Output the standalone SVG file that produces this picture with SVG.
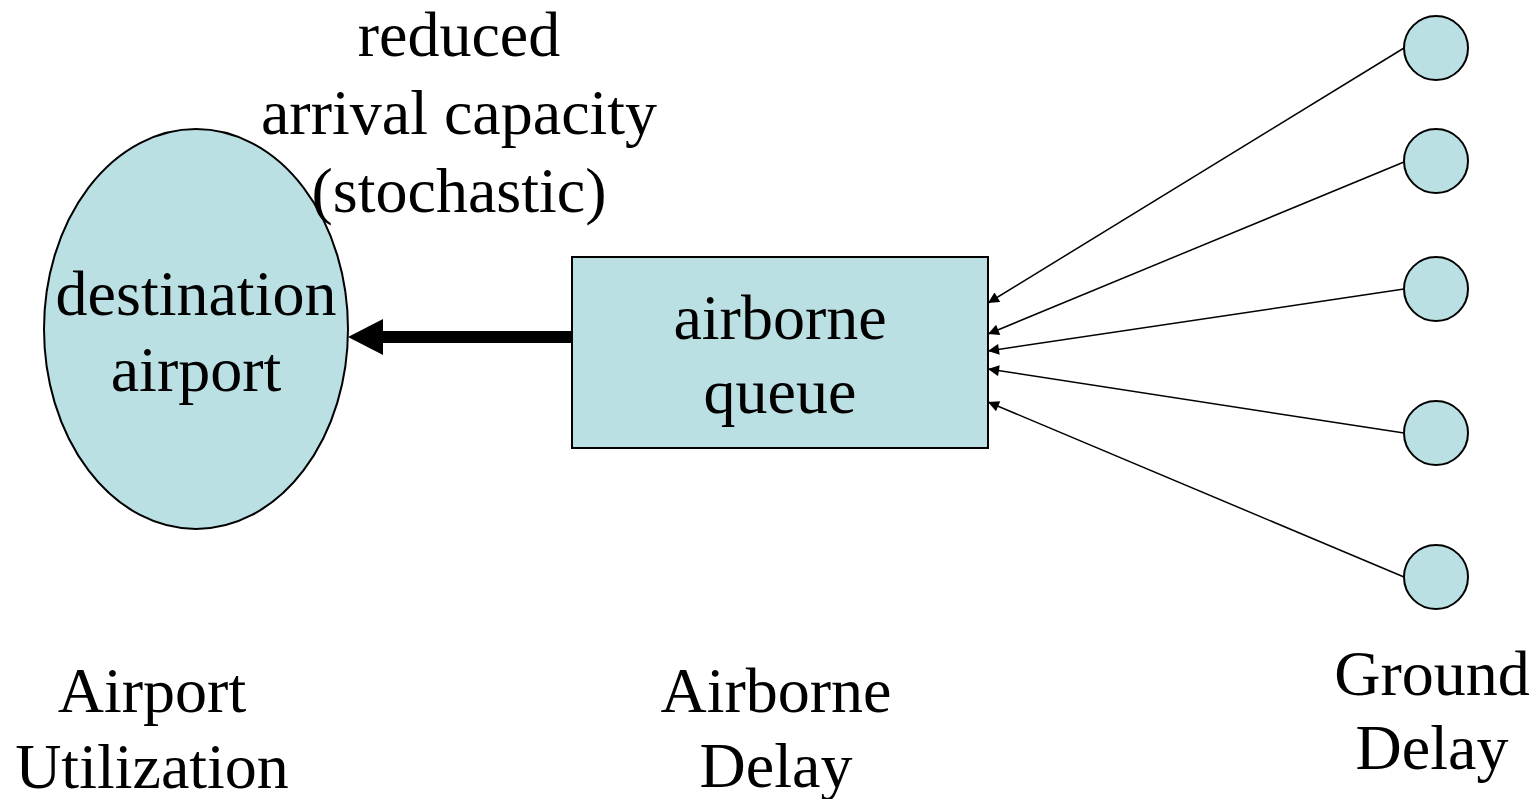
<svg xmlns="http://www.w3.org/2000/svg" width="1537" height="799" viewBox="0 0 1537 799">
<style>
text{font-family:"Liberation Serif","Times New Roman",serif;font-size:64px;fill:#000;text-anchor:middle}
.n{fill:#bae0e3;stroke:#000;stroke-width:2}
.c{stroke:#000;stroke-width:1.5;fill:none}
</style>
<defs>
<marker id="ah" viewBox="0 0 10 10" refX="10" refY="5" markerWidth="15" markerHeight="11" markerUnits="userSpaceOnUse" orient="auto">
<path d="M0,0 L10,5 L0,10 Z" fill="#000"/>
</marker>
</defs>
<g id="destination-airport">
<ellipse class="n" cx="196" cy="329" rx="152" ry="200"/>
<text x="196" y="315">destination</text>
<text x="196" y="391">airport</text>
</g>
<g id="airborne-queue">
<rect class="n" x="572" y="257" width="416" height="191"/>
<text x="780" y="339">airborne</text>
<text x="780" y="413">queue</text>
</g>
<g id="g1"><circle class="n" cx="1436" cy="48" r="32"/></g>
<g id="g2"><circle class="n" cx="1436" cy="161" r="32"/></g>
<g id="g3"><circle class="n" cx="1436" cy="289" r="32"/></g>
<g id="g4"><circle class="n" cx="1436" cy="433" r="32"/></g>
<g id="g5"><circle class="n" cx="1436" cy="577" r="32"/></g>
<g id="connectors">
<path d="M572,337 L383,337" stroke="#000" stroke-width="12" fill="none"/>
<path d="M383,319 L348,337 L383,355 Z" fill="#000"/>
<line class="c" x1="1404" y1="48" x2="988" y2="303" marker-end="url(#ah)"/>
<line class="c" x1="1404" y1="162" x2="988" y2="334" marker-end="url(#ah)"/>
<line class="c" x1="1404" y1="289" x2="988" y2="351" marker-end="url(#ah)"/>
<line class="c" x1="1404" y1="433" x2="988" y2="369" marker-end="url(#ah)"/>
<line class="c" x1="1404" y1="577" x2="988" y2="402" marker-end="url(#ah)"/>
</g>
<g id="labels">
<text x="459" y="56">reduced</text>
<text x="459" y="134">arrival capacity</text>
<text x="459" y="212">(stochastic)</text>
<text x="152" y="712">Airport</text>
<text x="152" y="788">Utilization</text>
<text x="776" y="712">Airborne</text>
<text x="776" y="787">Delay</text>
<text x="1432" y="695">Ground</text>
<text x="1432" y="769">Delay</text>
</g>
</svg>
